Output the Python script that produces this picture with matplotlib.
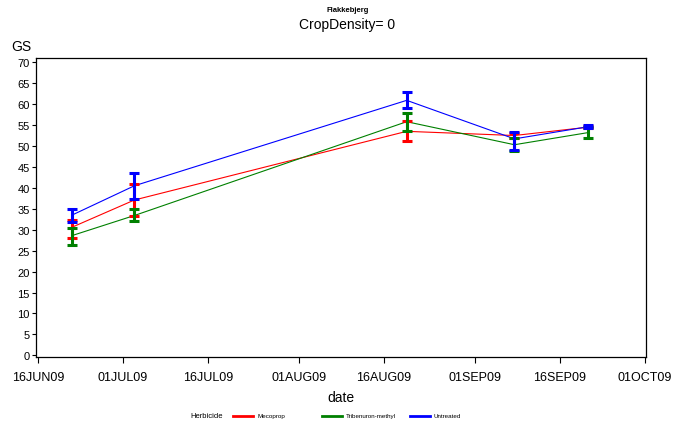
import datetime as dt
import matplotlib
matplotlib.use("Agg")
import matplotlib.pyplot as plt
import matplotlib.dates as mdates
from matplotlib.lines import Line2D

plt.rcParams['font.family'] = ['Liberation Sans', 'DejaVu Sans']

# Sampling dates
dates = [dt.date(2009, 6, 22), dt.date(2009, 7, 3), dt.date(2009, 8, 20),
         dt.date(2009, 9, 8), dt.date(2009, 9, 21)]

# Growth stage (GS) means and confidence limits per herbicide
meco_mean = [30.6, 37.1, 53.5, 52.5, 54.5]
meco_low = [28.0, 33.3, 51.2, 51.9, 54.2]
meco_high = [32.3, 40.9, 55.9, 53.0, 54.8]

trib_mean = [28.6, 33.4, 55.8, 50.3, 53.2]
trib_low = [26.4, 32.1, 53.6, 48.9, 51.9]
trib_high = [30.4, 34.9, 57.9, 51.8, 54.5]

untr_mean = [33.5, 40.5, 60.9, 51.7, 54.6]
untr_low = [31.9, 37.3, 59.0, 49.1, 54.3]
untr_high = [34.9, 43.5, 62.8, 53.3, 55.0]

herbicides = ['Mecoprop', 'Tribenuron-methyl', 'Untreated']
colors = ['#FF0000', '#008000', '#0000FF']

y_ticks = list(range(0, 75, 5))
x_ticks = [dt.date(2009, 6, 16), dt.date(2009, 7, 1), dt.date(2009, 7, 16),
           dt.date(2009, 8, 1), dt.date(2009, 8, 16), dt.date(2009, 9, 1),
           dt.date(2009, 9, 16), dt.date(2009, 10, 1)]

fig = plt.figure(figsize=(6.85, 4.27), dpi=100)
ax = fig.add_axes([0.0526, 0.1616, 0.8905, 0.6991])

series = [(meco_mean, meco_low, meco_high),
          (trib_mean, trib_low, trib_high),
          (untr_mean, untr_low, untr_high)]

for (mean, low, high), col in zip(series, colors):
    ax.plot(dates, mean, color=col, lw=0.8, zorder=2)
    err = [[m - lo for m, lo in zip(mean, low)],
           [hi - m for m, hi in zip(mean, high)]]
    ax.errorbar(dates, mean, yerr=err, fmt='none', ecolor=col,
                elinewidth=2.2, capsize=3.9, capthick=2.2, zorder=3)

ax.set_ylim(-0.4, 70.9)
ax.set_yticks(y_ticks)
ax.set_xlim(mdates.date2num(dt.date(2009, 6, 16)) - 0.35,
            mdates.date2num(dt.date(2009, 10, 1)) + 0.2)
ax.set_xticks([mdates.date2num(d) for d in x_ticks])
ax.set_xticklabels([d.strftime('%d%b%y').upper() for d in x_ticks], fontsize=9)
ax.tick_params(axis='y', labelsize=8, length=3, width=0.8, pad=1.5)
ax.tick_params(axis='x', length=4, width=0.8, pad=6)
for s in ax.spines.values():
    s.set_linewidth(0.9)

ax.set_xlabel('date', fontsize=10, labelpad=5)

fig.text(0.0307, 0.89, 'GS', fontsize=10, ha='center', va='center')
fig.text(0.507, 0.976, 'Flakkebjerg', fontsize=5.5, fontweight='bold',
         ha='center', va='center')
fig.text(0.507, 0.942, 'CropDensity= 0', fontsize=10, ha='center', va='center')

# Legend row along the bottom
ly = 1 - 417 / 427
fig.text(190 / 685, ly, 'Herbicide', fontsize=5.5, ha='left', va='center')
starts = [233, 322, 410]
for x0, col, name in zip(starts, colors, herbicides):
    fig.add_artist(Line2D([x0 / 685, (x0 + 20) / 685], [ly, ly], color=col,
                          lw=2.0, transform=fig.transFigure))
    fig.text((x0 + 24) / 685, ly, name, fontsize=4.5, ha='left', va='center')

fig.savefig('out.png', dpi=100)
